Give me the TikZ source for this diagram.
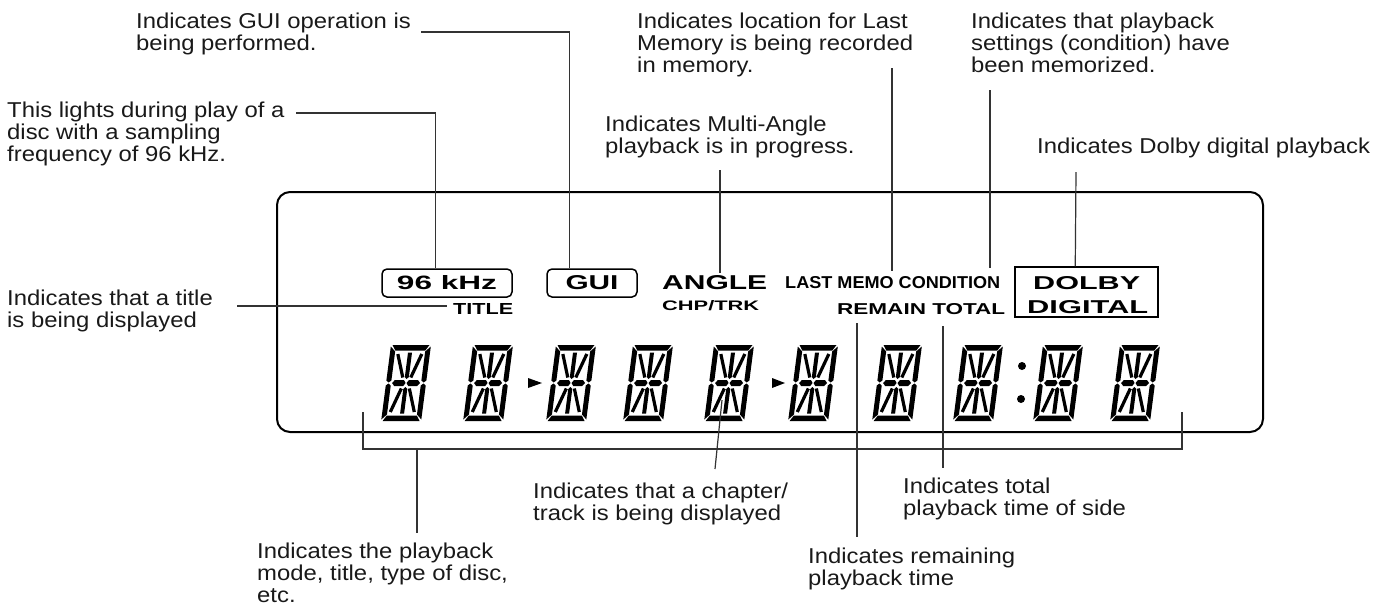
\documentclass[tikz,border=0pt]{standalone}
\usepackage{fontspec}
\usepackage{graphicx}
\setmainfont{Liberation Sans}
\newfontfamily\notefont[FakeStretch=1.11]{Liberation Sans}
\usetikzlibrary{calc}
\newcommand{\lcdword}[3]{\resizebox{#1pt}{#2pt}{\bfseries #3}}
\tikzset{
  note/.style={font=\notefont\fontsize{21.5}{22}\selectfont, align=left, anchor=north west, inner sep=0pt, text=black!90},
  lcdtext/.style={inner sep=0pt, anchor=base west},
  lcdframe/.style={draw, line width=1.5pt, inner sep=0pt},
  leader/.style={draw=black!80, line width=1.2pt},
  lcdseg/.style={fill=black},
  diag/.style={draw=black, line width=3.2pt},
  lcdchar/.pic={
    \begin{scope}[xslant=0.13]
    \fill[lcdseg] (1.5,0) -- (38.5,0) -- (35,5.5) -- (5,5.5) -- cycle;
    \fill[lcdseg] (1.5,76) -- (38.5,76) -- (35,70.5) -- (5,70.5) -- cycle;
    \fill[lcdseg] (0,1.5) -- (5,6.5) -- (5,35.5) -- (2.5,37.5) -- (0,35.5) -- cycle;
    \fill[lcdseg] (0,74.5) -- (5,69.5) -- (5,40.5) -- (2.5,38.5) -- (0,40.5) -- cycle;
    \fill[lcdseg] (40,1.5) -- (35,6.5) -- (35,35.5) -- (37.5,37.5) -- (40,35.5) -- cycle;
    \fill[lcdseg] (40,74.5) -- (35,69.5) -- (35,40.5) -- (37.5,38.5) -- (40,40.5) -- cycle;
    \fill[lcdseg] (6,38) -- (8.5,35) -- (17.5,35) -- (19.5,38) -- (17.5,41) -- (8.5,41) -- cycle;
    \fill[lcdseg] (20.5,38) -- (22.5,35) -- (31.5,35) -- (34,38) -- (31.5,41) -- (22.5,41) -- cycle;
    \fill[lcdseg] (18,7.5) -- (22,7.5) -- (22,32) -- (20,34) -- (18,32) -- cycle;
    \fill[lcdseg] (18,68.5) -- (22,68.5) -- (22,44) -- (20,42) -- (18,44) -- cycle;
    \draw[diag] (8,9) -- (16,32.5);
    \draw[diag] (32,9) -- (24,32.5);
    \draw[diag] (8,67) -- (16,43.5);
    \draw[diag] (32,67) -- (24,43.5);
    \end{scope}
  }
}

\begin{document}
\begin{tikzpicture}[x=1pt,y=-1pt]
\useasboundingbox (0,0) rectangle (1387,614);

% display window
\node[draw, line width=2pt, rounded corners=13pt, minimum width=986pt, minimum height=240pt, inner sep=0pt] (display) at (770,312) {};

% indicators
\node[lcdframe, rounded corners=5pt, minimum width=130pt, minimum height=28pt] (khz) at (447,283) {\lcdword{100}{14}{96 kHz}};
\node[lcdframe, rounded corners=5pt, minimum width=90pt, minimum height=28pt] (gui) at (592,283) {\lcdword{53}{14}{GUI}};
\node[lcdtext] (titleword) at (453,314) {\lcdword{60}{11}{TITLE}};
\node[lcdtext] (angleword) at (662,289) {\lcdword{105}{14}{ANGLE}};
\node[lcdtext] (chpword) at (662,310) {\lcdword{97}{10}{CHP/TRK}};
\node[lcdtext] (memoword) at (785,288) {\lcdword{215}{12}{LAST MEMO CONDITION}};
\node[lcdtext] (remainword) at (837,314) {\lcdword{168}{11}{REMAIN TOTAL}};
\node[lcdframe, minimum width=143pt, minimum height=50pt] (dolby) at (1086.5,292) {};
\node[lcdtext] (dolbyword) at (1033,289) {\lcdword{107}{13}{DOLBY}};
\node[lcdtext] (digitalword) at (1027,313) {\lcdword{121}{13}{DIGITAL}};

% character cells
\foreach \x in {391,473,556,633,714,798,882,963,1043,1120}
  \pic at (\x,345) {lcdchar};
\fill (528,378) -- (542,383) -- (528,388) -- cycle;
\fill (772,378) -- (785,383) -- (772,388) -- cycle;
\fill (1022,366) circle (4pt);
\fill (1021,399) circle (4pt);

% notes
\node[note] (guinote) at (136,13) {Indicates GUI operation is\\being performed.};
\node[note] (khznote) at (7,102) {This lights during play of a\\disc with a sampling\\frequency of 96 kHz.};
\node[note] (titlenote) at (7,290) {Indicates that a title\\is being displayed};
\node[note] (anglenote) at (605,116) {Indicates Multi-Angle\\playback is in progress.};
\node[note] (memonote) at (637,13) {Indicates location for Last\\Memory is being recorded\\in memory.};
\node[note] (condnote) at (971,13) {Indicates that playback\\settings (condition) have\\been memorized.};
\node[note] (dolbynote) at (1037,138) {Indicates Dolby digital playback};
\node[note] (modenote) at (257,543) {Indicates the playback\\mode, title, type of disc,\\etc.};
\node[note] (chapnote) at (533,483) {Indicates that a chapter/\\track is being displayed};
\node[note] (totalnote) at (903,478) {Indicates total\\playback time of side};
\node[note] (remainnote) at (808,548) {Indicates remaining\\playback time};

% leader ends
\coordinate (guistart) at (421,32);
\coordinate (khzstart) at (296,113);
\coordinate (titlestart) at (237,306);
\coordinate (anglestart) at (720,170);
\coordinate (memostart) at (892,68);
\coordinate (condstart) at (990,90);
\coordinate (dolbystart) at (1076,172);
\coordinate (chapseg) at (722,400);
\coordinate (chapend) at (715,469);
\coordinate (remainend) at (857,537);
\coordinate (totalend) at (943,468);
\coordinate (brkleft) at (363,412);
\coordinate (brkright) at (1182,412);
\coordinate (brkmid) at (417,449);
\coordinate (modeend) at (417,533);

% leaders
\draw[leader] (guistart) -| ($(gui.north west)+(23,0)$);
\draw[leader] (khzstart) -| ($(khz.north west)+(54,0)$);
\draw[leader] (titlestart) -- ($(titleword.base west)+(-6,-8)$);
\draw[leader] (anglestart) -- ($(angleword.north west)+(58,-2)$);
\draw[leader] (memostart) -- ($(memoword.north west)+(107,-5)$);
\draw[leader] (condstart) -- ($(memoword.north west)+(205,-8)$);
\draw[leader] (dolbystart) -- ($(dolby.north west)+(61,0)$);
\draw[leader] (chapseg) -- (chapend);
\draw[leader] ($(remainword.south west)+(20,9)$) -- (remainend);
\draw[leader] ($(remainword.south west)+(106,12)$) -- (totalend);
\draw[leader] (brkleft) |- (brkright |- brkmid) -- (brkright);
\draw[leader] (brkmid) -- (modeend);
\end{tikzpicture}
\end{document}
